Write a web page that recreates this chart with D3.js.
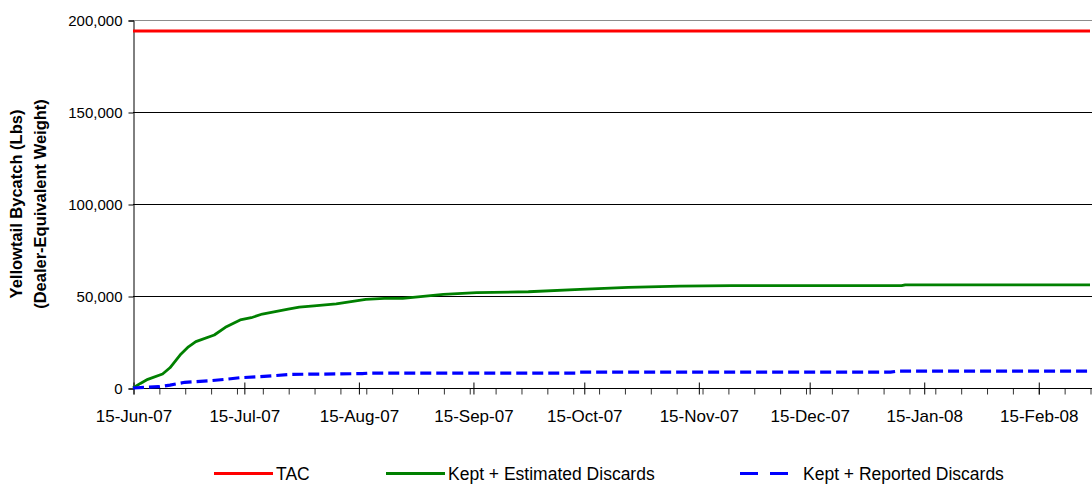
<!DOCTYPE html>
<html>
<head>
<meta charset="utf-8">
<script src="https://cdn.jsdelivr.net/npm/d3@7"></script>
<style>
  body { margin: 0; background: #fff; }
  svg { display: block; font-family: "Liberation Sans", Arial, sans-serif; }
</style>
</head>
<body>
<div id="chart"></div>
<script>
// TAC (flat limit)
const tacValue = 194000;

// Kept + Estimated Discards (cumulative lbs)
const estDates = ["2007-06-15", "2007-06-17", "2007-06-19", "2007-06-23", "2007-06-25", "2007-06-28",
  "2007-06-30", "2007-07-02", "2007-07-07", "2007-07-10", "2007-07-14", "2007-07-17", "2007-07-20",
  "2007-07-27", "2007-07-30", "2007-08-03", "2007-08-09", "2007-08-13", "2007-08-17", "2007-08-22",
  "2007-08-27", "2007-09-07", "2007-09-16", "2007-09-30", "2007-10-14", "2007-10-27", "2007-11-10",
  "2007-11-24", "2008-01-09", "2008-01-10", "2008-02-29"];
const estValues = [0, 2500, 4700, 7600, 11000, 18500,
  22400, 25200, 28800, 33000, 37000, 38200, 40200,
  42800, 43900, 44600, 45700, 46900, 48200, 48700,
  48700, 50900, 51800, 52300, 53600, 54700, 55400,
  55600, 55600, 56100, 56100];

// Kept + Reported Discards (cumulative lbs)
const repDates = ["2007-06-15", "2007-06-22", "2007-06-25", "2007-06-29", "2007-07-06", "2007-07-10",
  "2007-07-14", "2007-07-19", "2007-07-28", "2007-08-16", "2007-08-18", "2007-10-13", "2007-10-14",
  "2008-01-06", "2008-01-08", "2008-02-29"];
const repValues = [0, 700, 1600, 3100, 4000, 4700,
  5600, 6100, 7400, 7800, 8100, 8100, 8600,
  8600, 9200, 9200];

const yTicks = [0, 50000, 100000, 150000, 200000];
const axisStart = "2007-06-15";
const axisEnd = "2008-02-29";

const legendLabels = ["TAC", "Kept + Estimated Discards", "Kept + Reported Discards"];

const width = 1092;
const height = 485;
const parse = d3.utcParse("%Y-%m-%d");

const svg = d3.select("#chart")
  .append("svg")
  .attr("width", width)
  .attr("height", height);

const x = d3.scaleUtc()
  .domain([parse(axisStart), parse(axisEnd)])
  .range([133, 1090]);

const y = d3.scaleLinear()
  .domain([0, 200000])
  .range([388, 20]);

// gridlines
svg.append("g")
  .selectAll("line")
  .data(yTicks.filter(d => d > 0))
  .join("line")
  .attr("x1", 133)
  .attr("x2", width)
  .attr("y1", d => y(d) + 0.5)
  .attr("y2", d => y(d) + 0.5)
  .attr("stroke", d => d === 200000 ? "#8c8c8c" : "#000")
  .attr("stroke-width", 1);

// y axis
const yAxis = svg.append("g")
  .attr("transform", "translate(133.5,0.5)")
  .call(d3.axisLeft(y).tickValues(yTicks).tickFormat(d3.format(",")).tickSizeOuter(0).tickSize(5).tickPadding(6));
yAxis.select(".domain").attr("stroke", "#000");
yAxis.selectAll("text").attr("font-size", "15px").attr("fill", "#000")
  .attr("font-family", "'Liberation Sans', Arial, sans-serif");

// x axis: weekly minor ticks, monthly major ticks on the 15th
const start = parse(axisStart), end = parse(axisEnd);
const minorTicks = d3.utcDay.range(start, d3.utcDay.offset(end, 1), 7);
const majorTicks = d3.utcMonth.range(d3.utcMonth.floor(start), end)
  .map(d => d3.utcDay.offset(d, 14))
  .filter(d => d >= start && d <= end);

const xMinor = svg.append("g")
  .attr("transform", "translate(0.5,388.5)")
  .call(d3.axisBottom(x).tickValues(minorTicks).tickFormat("").tickSize(6).tickSizeOuter(0));
xMinor.select(".domain").remove();
xMinor.selectAll("line").attr("stroke", "#333");

const xAxis = svg.append("g")
  .attr("transform", "translate(0.5,388.5)")
  .call(d3.axisBottom(x).tickValues(majorTicks).tickFormat(d3.utcFormat("%d-%b-%y")).tickSize(6).tickSizeOuter(0));
xAxis.select(".domain").attr("stroke", "#000").attr("d", `M133,0H${width}`);
xAxis.selectAll(".tick line").attr("y1", -6).attr("stroke", "#000");
xAxis.selectAll("text")
  .attr("y", 33.5)
  .attr("dy", 0)
  .attr("font-size", "17px")
  .attr("fill", "#000")
  .attr("font-family", "'Liberation Sans', Arial, sans-serif");

// y axis title
const title = svg.append("g")
  .attr("font-weight", "bold")
  .attr("font-size", "16.5px")
  .attr("text-anchor", "middle");
title.append("text")
  .attr("transform", "translate(22,204) rotate(-90)")
  .text("Yellowtail Bycatch (Lbs)");
title.append("text")
  .attr("transform", "translate(46,204) rotate(-90)")
  .text("(Dealer-Equivalent Weight)");

// series
const line = d3.line()
  .x(d => x(d[0]))
  .y(d => y(d[1]));

const tacData = [[start, tacValue], [end, tacValue]];
const estData = estDates.map((d, i) => [parse(d), estValues[i]]);
const repData = repDates.map((d, i) => [parse(d), repValues[i]]);

svg.append("path")
  .datum(tacData)
  .attr("d", line)
  .attr("fill", "none")
  .attr("stroke", "#ff0000")
  .attr("stroke-width", 3);

svg.append("path")
  .datum(estData)
  .attr("d", line)
  .attr("fill", "none")
  .attr("stroke", "#008000")
  .attr("stroke-width", 2.8)
  .attr("stroke-linejoin", "round");

svg.append("path")
  .datum(repData)
  .attr("d", line)
  .attr("fill", "none")
  .attr("stroke", "#0000ff")
  .attr("stroke-width", 3.2)
  .attr("stroke-dasharray", "11,5");

// legend
const legendItems = [
  { label: legendLabels[0], color: "#ff0000", dash: null, x: 214 },
  { label: legendLabels[1], color: "#008000", dash: null, x: 386 },
  { label: legendLabels[2], color: "#0000ff", dash: "18,12", x: 740 }
];

const legend = svg.append("g")
  .selectAll("g")
  .data(legendItems)
  .join("g")
  .attr("transform", d => `translate(${d.x},473.5)`);

legend.append("line")
  .attr("x1", 0)
  .attr("x2", 59)
  .attr("stroke", d => d.color)
  .attr("stroke-width", 3)
  .attr("stroke-dasharray", d => d.dash);

legend.append("text")
  .attr("x", d => d.dash ? 63 : 62)
  .attr("y", 6)
  .attr("font-size", "17.5px")
  .attr("fill", "#000")
  .text(d => d.label);
</script>
</body>
</html>
